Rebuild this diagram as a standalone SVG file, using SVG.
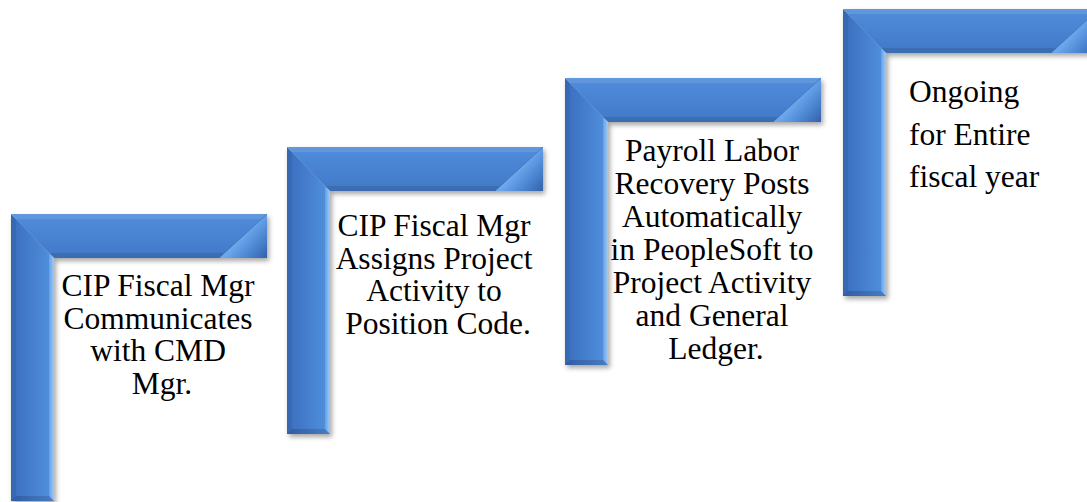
<svg xmlns="http://www.w3.org/2000/svg" xmlns:xlink="http://www.w3.org/1999/xlink" width="1087" height="502" viewBox="0 0 1087 502">
<style>
text{font-family:"Liberation Serif","Times New Roman","DejaVu Serif",serif;font-size:31.5px;fill:#000}
.c{text-anchor:middle}
.s{text-anchor:start}
</style>
<defs>
<filter id="sh" x="-10%" y="-10%" width="125%" height="125%">
<feDropShadow dx="2" dy="3" stdDeviation="2.5" flood-color="#000" flood-opacity="0.35"/>
</filter>
<linearGradient id="vbarG" gradientUnits="userSpaceOnUse" x1="0" y1="0" x2="43" y2="0">
<stop offset="0" stop-color="#3b6dbd"/>
<stop offset="0.55" stop-color="#4681d0"/>
<stop offset="0.85" stop-color="#4f8cda"/>
<stop offset="1" stop-color="#5894df"/>
</linearGradient>
<linearGradient id="hbarG" gradientUnits="userSpaceOnUse" x1="0" y1="0" x2="0" y2="44">
<stop offset="0" stop-color="#518dda"/>
<stop offset="0.5" stop-color="#4883d2"/>
<stop offset="1" stop-color="#4179c6"/>
</linearGradient>
<linearGradient id="hiG" gradientUnits="userSpaceOnUse" x1="37" y1="0" x2="43" y2="0">
<stop offset="0" stop-color="#5b97e1"/>
<stop offset="1" stop-color="#9ccbf8"/>
</linearGradient>
<linearGradient id="foldG" gradientUnits="userSpaceOnUse" x1="231" y1="22" x2="256" y2="44">
<stop offset="0" stop-color="#6ea8ec"/>
<stop offset="0.35" stop-color="#5590dc"/>
<stop offset="1" stop-color="#3261aa"/>
</linearGradient>
<g id="frame">
<polygon points="0,0 256,0 256,44 43,44" fill="url(#hbarG)"/>
<polygon points="0,0 43,44 43,287 0,287" fill="url(#vbarG)"/>
<polygon points="0,0 256,0 251,5 5,5" fill="#ffffff" opacity="0.1"/>
<polygon points="0,0 5,5 5,282 0,287" fill="#000" opacity="0.06"/>
<polygon points="256,0 256,44 251,39 251,5" fill="#000" opacity="0.08"/>
<polygon points="256,44 43,44 38,39 251,39" fill="#000" opacity="0.1"/>
<polygon points="43,44 43,287 38,282 38,39" fill="url(#hiG)"/>
<polygon points="43,287 0,287 5,282 38,282" fill="#000" opacity="0.14"/>
<polygon points="208,44 256,0 256,44" fill="url(#foldG)"/>
<line x1="208" y1="44" x2="256" y2="0" stroke="#2d5796" stroke-width="1" opacity="0.4"/>
</g>
</defs>
<g id="connectors"/>
<g id="step1">
<use href="#frame" xlink:href="#frame" transform="translate(11,214)" filter="url(#sh)"/>
<text class="c" font-family="Liberation Serif, Times New Roman, serif" x="162" y="296">
<tspan x="162" y="296">CIP Fiscal Mgr</tspan>
<tspan x="162" y="328.5">Communicates</tspan>
<tspan x="162" y="361">with CMD</tspan>
<tspan x="162" y="393.5">Mgr.</tspan>
</text>
</g>
<g id="step2">
<use href="#frame" xlink:href="#frame" transform="translate(287,147)" filter="url(#sh)"/>
<text class="c" font-family="Liberation Serif, Times New Roman, serif" x="438" y="236">
<tspan x="438" y="236">CIP Fiscal Mgr</tspan>
<tspan x="438" y="268.5">Assigns Project</tspan>
<tspan x="438" y="301">Activity to</tspan>
<tspan x="438" y="333.5">Position Code.</tspan>
</text>
</g>
<g id="step3">
<use href="#frame" xlink:href="#frame" transform="translate(565,78)" filter="url(#sh)"/>
<text class="c" font-family="Liberation Serif, Times New Roman, serif" x="716" y="161">
<tspan x="716" y="161">Payroll Labor</tspan>
<tspan x="716" y="194">Recovery Posts</tspan>
<tspan x="716" y="227">Automatically</tspan>
<tspan x="716" y="260">in PeopleSoft to</tspan>
<tspan x="716" y="293">Project Activity</tspan>
<tspan x="716" y="326">and General</tspan>
<tspan x="716" y="359">Ledger.</tspan>
</text>
</g>
<g id="step4">
<use href="#frame" xlink:href="#frame" transform="translate(843,9)" filter="url(#sh)"/>
<text class="s" font-family="Liberation Serif, Times New Roman, serif" x="909" y="102">
<tspan x="909" y="102">Ongoing</tspan>
<tspan x="909" y="144.5">for Entire</tspan>
<tspan x="909" y="187">fiscal year</tspan>
</text>
</g>
</svg>
